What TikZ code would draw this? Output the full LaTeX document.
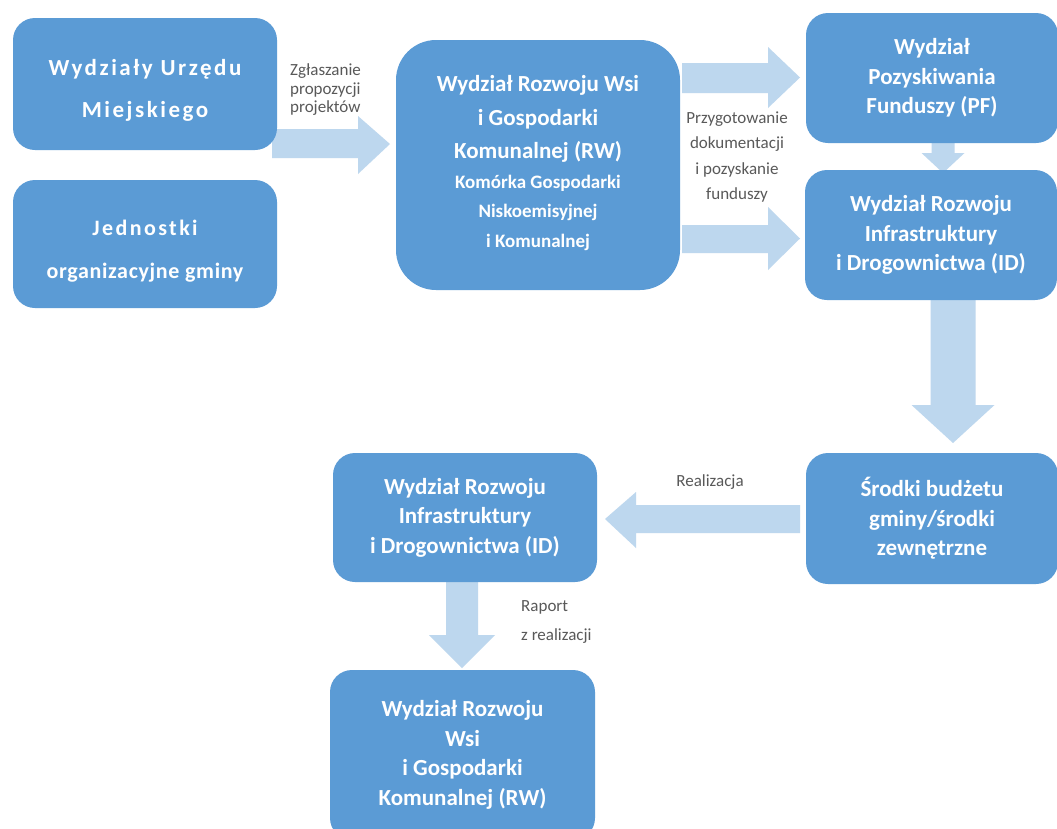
\documentclass[tikz,border=0pt]{standalone}
\usepackage{fontspec}
\setmainfont{Carlito}
\newfontfamily\wideb[LetterSpace=11]{Carlito}
\newfontfamily\widec[LetterSpace=3]{Carlito}
\definecolor{boxc}{HTML}{5B9BD5}
\definecolor{arrc}{HTML}{BDD7EE}
\definecolor{labc}{HTML}{595959}
\begin{document}
\begin{tikzpicture}[x=1pt,y=-1pt,
  box/.style={fill=boxc,draw=none,rounded corners=22pt,text=white,font=\bfseries\fontsize{23}{29.5}\selectfont,align=center,inner sep=0pt},
  boxtext/.style={text=white,font=\bfseries\fontsize{23}{29.5}\selectfont,align=center,inner sep=0pt},
  lab/.style={text=labc,font=\fontsize{17}{18.5}\selectfont,inner sep=0pt},
  blk/.style={fill=arrc,draw=none}]
\useasboundingbox[fill=white] (0,0) rectangle (1057,828);
% arrows
\fill[blk] (272,129) -- (358,129) -- (358,116) -- (390,144) -- (358,174) -- (358,158) -- (272,158) -- cycle;
\fill[blk] (682,63) -- (768,63) -- (768,47) -- (800,77.5) -- (768,108) -- (768,93) -- (682,93) -- cycle;
\fill[blk] (682,225) -- (768,225) -- (768,207) -- (800,238.5) -- (768,270) -- (768,253) -- (682,253) -- cycle;
\fill[blk] (931.5,140) -- (931.5,153) -- (921.5,153) -- (943,173) -- (964.5,153) -- (954.5,153) -- (954.5,140) -- cycle;
\fill[blk] (930.5,300) -- (930.5,405) -- (911.5,405) -- (953,443) -- (994.5,405) -- (975.5,405) -- (975.5,300) -- cycle;
\fill[blk] (800,505) -- (636,505) -- (636,492) -- (605,519) -- (636,548) -- (636,533) -- (800,533) -- cycle;
\fill[blk] (446,580) -- (446,635) -- (429,635) -- (462,668) -- (495,635) -- (478,635) -- (478,580) -- cycle;
% boxes
\node[box,minimum width=264pt,minimum height=132pt] (wum) at (145,84) {};
\node[boxtext] (wumt) at (145,90) {\wideb Wydziały Urzędu\\[12.5pt]\wideb Miejskiego};
\node[box,minimum width=264pt,minimum height=128pt] (jog) at (145,244) {};
\node[boxtext,font=\bfseries\fontsize{22}{29.5}\selectfont] (jogt) at (145,251.5) {\wideb Jednostki\\[13.5pt]\widec organizacyjne gminy};
\node[box,rounded corners=40pt,minimum width=284pt,minimum height=250pt] (rw) at (538,165) {};
\node[boxtext] (rwt) at (538,163)
  {Wydział Rozwoju Wsi\\[4.5pt]i Gospodarki\\[3.5pt]Komunalnej (RW)\\[0pt]{\fontsize{19}{29}\selectfont Komórka Gospodarki}\\{\fontsize{19}{29}\selectfont Niskoemisyjnej}\\{\fontsize{19}{29}\selectfont i Komunalnej}};
\node[box,minimum width=252pt,minimum height=130pt] (pf) at (932,78) {Wydział\\Pozyskiwania\\Funduszy (PF)};
\node[box,minimum width=252pt,minimum height=130pt] (idt) at (931,235) {Wydział Rozwoju\\Infrastruktury\\i Drogownictwa (ID)};
\node[box,minimum width=252pt,minimum height=131pt] (sbg) at (932,518.5) {Środki budżetu\\gminy/środki\\zewnętrzne};
\node[box,minimum width=264pt,minimum height=129pt] (idb) at (465,517.5) {Wydział Rozwoju\\Infrastruktury\\i Drogownictwa (ID)};
\node[box,minimum width=265pt,minimum height=170pt] (rwb) at (462.5,755) {Wydział Rozwoju\\Wsi\\i Gospodarki\\Komunalnej (RW)};
% labels
\node[lab,align=left,anchor=west] (l1) at (290,90) {Zgłaszanie\\propozycji\\projektów};
\node[lab,align=center] (l2) at (737,157) {Przygotowanie\\[7pt]dokumentacji\\[7pt]i pozyskanie\\[7pt]funduszy};
\node[lab] (l3) at (710,482) {Realizacja};
\node[lab,align=left,anchor=west] (l4) at (521,622) {Raport\\[10pt]z realizacji};
\end{tikzpicture}
\end{document}
